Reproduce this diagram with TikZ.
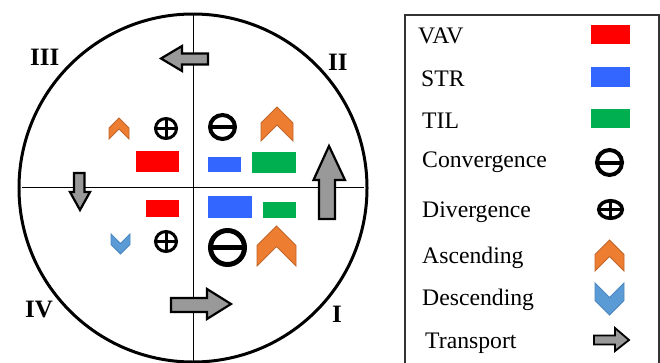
\documentclass[tikz,border=0pt]{standalone}
\usepackage{fontspec}
\setmainfont{Liberation Serif}
\definecolor{vavred}{HTML}{FF0000}
\definecolor{strblue}{HTML}{3366FF}
\definecolor{tilgreen}{HTML}{00B050}
\definecolor{ascfill}{HTML}{ED7D31}
\definecolor{ascline}{HTML}{C0662A}
\definecolor{descfill}{HTML}{5B9BD5}
\definecolor{descline}{HTML}{4A86C0}
\definecolor{arrowgray}{HTML}{999999}
\tikzset{
  vav/.style={fill=vavred},
  strc/.style={fill=strblue},
  til/.style={fill=tilgreen},
  ascend/.style={fill=ascfill,draw=ascline,line width=0.8pt,line join=miter},
  descend/.style={fill=descfill,draw=descline,line width=0.8pt,line join=miter},
  transport/.style={fill=arrowgray,draw=black,line width=2.2pt,line join=miter},
  legendtext/.style={anchor=base west,inner sep=0pt,font=\fontsize{23.7}{28}\selectfont},
  quadlabel/.style={anchor=base west,inner sep=0pt,font=\fontsize{25}{30}\selectfont\bfseries},
}
% up-pointing chevron in the box (x0,y0)-(x1,y1)
\newcommand\chevup[5][ascend]{%
  \pgfmathsetmacro\cxm{(#2+#4)/2}\pgfmathsetmacro\hw{(#4-#2)/2}%
  \draw[#1] (\cxm,#3) -- (#4,#3+\hw) -- (#4,#5) -- (\cxm,#5-\hw) -- (#2,#5) -- (#2,#3+\hw) -- cycle;}
% down-pointing chevron in the box (x0,y0)-(x1,y1)
\newcommand\chevdown[5][descend]{%
  \pgfmathsetmacro\cxm{(#2+#4)/2}\pgfmathsetmacro\hw{(#4-#2)/2}%
  \draw[#1] (\cxm,#5) -- (#4,#5-\hw) -- (#4,#3) -- (\cxm,#3+\hw) -- (#2,#3) -- (#2,#5-\hw) -- cycle;}
% divergence mark: centre, x radius, y radius, stroke
\newcommand\divmark[5]{%
  \draw[line width=#5] (#1,#2) ellipse [x radius=#3,y radius=#4];
  \draw[line width=#5] (#1-#3,#2) -- (#1+#3,#2) (#1,#2-#4) -- (#1,#2+#4);}
% convergence mark: centre, x radius, y radius, stroke
\newcommand\convmark[5]{%
  \draw[line width=#5] (#1,#2) ellipse [x radius=#3,y radius=#4];
  \draw[line width=#5] (#1-#3,#2) -- (#1+#3,#2);}
\begin{document}
\begin{tikzpicture}[x=1pt,y=-1pt]
\useasboundingbox (0,0) rectangle (660,362);

% circle and axes
\coordinate (c) at (193,188);
\draw[line width=0.9pt] (22,187) -- (364,187);
\draw[line width=0.9pt] (193,13) -- (193,363);
\draw[line width=3pt] (c) circle [radius=174];

% quadrant labels
\node[quadlabel] (qIII) at (30,65) {III};
\node[quadlabel] (qII) at (328,70) {II};
\node[quadlabel] (qIV) at (25,317) {IV};
\node[quadlabel] (qI) at (332,322) {I};

% transport arrows
\draw[transport] (161,58.5) -- (182,46) -- (182,53.5) -- (208,53.5) -- (208,64.5) -- (182,64.5) -- (182,71) -- cycle;
\draw[transport] (329,146) -- (345,180) -- (335,180) -- (335,219) -- (319,219) -- (319,180) -- (313.5,180) -- cycle;
\draw[transport] (231,304) -- (207,319) -- (207,312) -- (171,312) -- (171,298) -- (207,298) -- (207,289) -- cycle;
\draw[transport] (80,210) -- (90,192) -- (84.5,192) -- (84.5,173) -- (74,173) -- (74,192) -- (70,192) -- cycle;

% quadrant III
\chevup{109}{118}{129}{139}
\divmark{166}{128.5}{10.5}{10}{3pt}
\fill[vav] (136,151) rectangle (179,172);

% quadrant II
\convmark{222.5}{127}{12.5}{12}{4pt}
\chevup{261}{107}{293}{141}
\fill[strc] (208,157) rectangle (241,172);
\fill[til] (252,152) rectangle (296,173);

% quadrant IV
\fill[vav] (146,200) rectangle (179,217);
\chevdown{111}{234}{130}{254}
\divmark{166}{241.5}{10.5}{10}{3pt}

% quadrant I
\fill[strc] (208,196) rectangle (252,218);
\fill[til] (263,202) rectangle (296,218);
\convmark{227.5}{247.5}{17}{17}{5pt}
\chevup{257}{226}{296}{266}

% legend
\draw[line width=1.3pt,draw=black!80] (405,15) rectangle (659,370);
\node[legendtext] (lvav) at (418,43) {VAV};
\node[legendtext] (lstr) at (421,86) {STR};
\node[legendtext] (ltil) at (422,128) {TIL};
\node[legendtext] (lconv) at (422,167) {Convergence};
\node[legendtext] (ldiv) at (422,217) {Divergence};
\node[legendtext] (lasc) at (422,263) {Ascending};
\node[legendtext] (ldesc) at (422,305) {Descending};
\node[legendtext] (ltrans) at (425,348) {Transport};

\fill[vav] (591,25) rectangle (630,44);
\fill[strc] (591,67) rectangle (630,87);
\fill[til] (591,109) rectangle (630,128);
\convmark{609.5}{162.5}{12.5}{12.5}{4pt}
\divmark{610.5}{209.5}{11.8}{8.8}{3.5pt}
\chevup{595}{240}{624}{271}
\chevdown{595}{283}{624}{315}
\draw[transport,line width=1.8pt] (629,340) -- (615,351) -- (615,344.5) -- (594,344.5) -- (594,335.5) -- (615,335.5) -- (615,328) -- cycle;
\end{tikzpicture}
\end{document}
